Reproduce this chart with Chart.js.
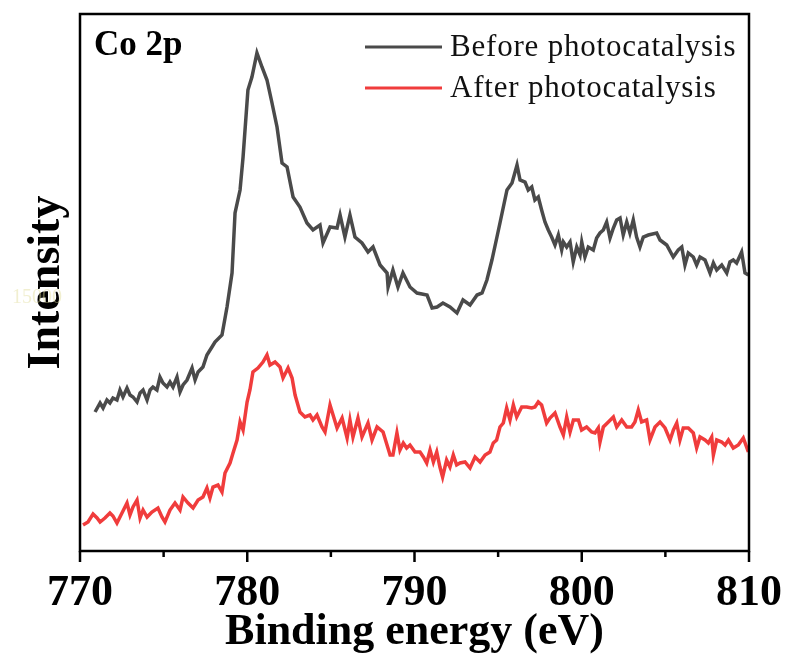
<!DOCTYPE html>
<html>
<head>
<meta charset="utf-8">
<script src="https://cdn.jsdelivr.net/npm/chart.js@4.4.1/dist/chart.umd.min.js"></script>
<style>
  html, body { margin: 0; padding: 0; background: #fff; overflow: hidden; }
  #wrap { width: 788px; height: 655px; }
</style>
</head>
<body>
<div id="wrap"><canvas id="xps"></canvas></div>
<script>
// Co 2p XPS spectra (intensity in arbitrary units)
const energyBefore = [
  770.90, 771.20, 771.38, 771.61, 771.79, 771.97, 772.21, 772.39, 772.57, 772.81,
  772.99, 773.17, 773.41, 773.59, 773.77, 774.01, 774.19, 774.36, 774.60, 774.78,
  774.96, 775.20, 775.38, 775.56, 775.80, 775.98, 776.16, 776.40, 776.70, 776.88,
  777.06, 777.35, 777.59, 777.89, 778.07, 778.49, 778.79, 779.09, 779.27, 779.57,
  779.75, 780.04, 780.28, 780.58, 780.88, 781.18, 781.48, 781.78, 782.08, 782.38,
  782.74, 783.15, 783.57, 783.93, 784.35, 784.53, 784.95, 785.37, 785.55, 785.84,
  786.14, 786.44, 786.86, 787.22, 787.52, 787.94, 788.36, 788.42, 788.71, 789.01,
  789.31, 789.73, 790.15, 790.75, 791.05, 791.35, 791.70, 792.12, 792.54, 792.90,
  793.32, 793.74, 794.04, 794.33, 794.63, 794.93, 795.11, 795.53, 795.83, 796.13,
  796.31, 796.61, 796.80, 797.01, 797.20, 797.40, 797.60, 797.80, 798.00, 798.20,
  798.40, 798.60, 798.80, 798.90, 799.10, 799.30, 799.49, 799.70, 799.90, 800.00,
  800.19, 800.39, 800.69, 800.89, 801.09, 801.29, 801.49, 801.69, 801.89, 802.09,
  802.29, 802.48, 802.69, 802.88, 803.08, 803.28, 803.48, 803.68, 803.98, 804.48,
  804.68, 805.08, 805.47, 805.77, 805.98, 806.17, 806.37, 806.67, 806.87, 807.07,
  807.37, 807.67, 807.87, 808.07, 808.37, 808.67, 808.86, 809.06, 809.26, 809.56,
  809.76, 809.96
];
const intensityBefore = [
  136, 145, 140, 148, 145, 150, 148, 158, 151, 160,
  153, 151, 146, 155, 158, 148, 158, 161, 158, 171,
  165, 161, 166, 161, 171, 156, 163, 168, 180, 168,
  176, 181, 193, 201, 206, 213, 241, 275, 335, 358,
  391, 458, 471, 495, 481, 468, 445, 421, 385, 381,
  351, 341, 325, 318, 323, 305, 321, 320, 333, 311,
  333, 311, 305, 296, 301, 283, 275, 261, 278, 261,
  275, 261, 255, 253, 240, 241, 245, 241, 235, 248,
  243, 253, 255, 268, 288, 311, 325, 358, 365, 383,
  368, 366, 358, 361, 348, 351, 338, 326, 318, 311,
  303, 313, 298, 306, 301, 306, 286, 301, 293, 306,
  291, 301, 298, 310, 315, 318, 326, 310, 320, 328,
  330, 313, 326, 315, 328, 311, 301, 311, 313, 315,
  308, 303, 291, 298, 301, 283, 295, 291, 283, 291,
  288, 275, 285, 278, 283, 275, 286, 288, 285, 296,
  275, 273
];

const energyAfter = [
  770.18, 770.48, 770.78, 771.02, 771.20, 771.49, 771.79, 771.97, 772.21, 772.51,
  772.81, 772.99, 773.17, 773.41, 773.59, 773.77, 774.01, 774.30, 774.66, 774.90,
  775.08, 775.38, 775.68, 775.98, 776.16, 776.46, 776.76, 777.06, 777.35, 777.59,
  777.77, 777.95, 778.25, 778.49, 778.67, 778.97, 779.15, 779.39, 779.57, 779.75,
  779.99, 780.16, 780.34, 780.64, 780.94, 781.18, 781.36, 781.66, 781.96, 782.14,
  782.44, 782.68, 782.86, 783.15, 783.45, 783.75, 783.93, 784.17, 784.47, 784.65,
  784.95, 785.37, 785.67, 785.97, 786.14, 786.32, 786.62, 786.86, 787.22, 787.46,
  787.76, 788.12, 788.54, 788.71, 788.95, 789.13, 789.33, 789.53, 789.73, 790.03,
  790.33, 790.53, 790.73, 790.93, 791.13, 791.33, 791.52, 791.68, 791.92, 792.12,
  792.32, 792.52, 792.72, 793.02, 793.32, 793.62, 793.92, 794.22, 794.51, 794.71,
  794.91, 795.11, 795.31, 795.51, 795.71, 795.91, 796.11, 796.41, 796.71, 797.01,
  797.20, 797.40, 797.60, 797.90, 798.10, 798.40, 798.70, 798.90, 799.10, 799.30,
  799.50, 799.80, 799.99, 800.29, 800.59, 800.79, 800.99, 801.09, 801.29, 801.59,
  801.89, 802.09, 802.39, 802.69, 802.98, 803.18, 803.38, 803.58, 803.88, 804.08,
  804.38, 804.68, 804.98, 805.28, 805.48, 805.68, 805.87, 806.07, 806.37, 806.67,
  806.87, 807.07, 807.37, 807.57, 807.77, 807.87, 808.07, 808.37, 808.57, 808.77,
  809.06, 809.36, 809.66, 809.96
];
const intensityAfter = [
   23,  26,  34,  30,  26,  30,  35,  32,  25,  35,
   45,  33,  41,  48,  30,  38,  31,  36,  40,  31,
   26,  38,  45,  38,  51,  45,  40,  48,  51,  60,
   50,  61,  63,  56,  75,  85,  95, 108, 126, 118,
  146, 158, 176, 180, 186, 193, 183, 186, 181, 170,
  180, 170, 153, 136, 131, 133, 128, 133, 121, 116,
  143, 120, 130, 110, 128, 111, 130, 111, 125, 108,
  121, 116,  93,  93, 115,  98, 105, 100, 103,  96,
   96,  91,  85,  98,  86,  96,  81,  71,  88,  81,
   93,  83,  85,  86,  80,  91,  86,  93,  96, 105,
  108, 121, 125, 140, 128, 143, 131, 141, 141, 140,
  141, 146, 143, 125, 130, 135, 121, 113, 131, 116,
  128, 128, 118, 121, 116, 115, 120, 106, 121, 126,
  131, 121, 128, 121, 121, 126, 138, 126, 128, 108,
  121, 126, 120, 108, 118, 125, 108, 120, 120, 115,
  100, 111, 108, 105, 111,  93, 108, 106, 103, 108,
  100, 103, 110,  96
];

const seriesLabels = ['Before photocatalysis', 'After photocatalysis'];
const seriesColors = ['#4a4a4a', '#f03c3c'];
const xTickMin = 770, xTickMax = 810, xTickStep = 5;

const SERIF = "'Liberation Serif', 'Times New Roman', serif";

const toPoints = (xs, ys) => xs.map((x, i) => ({ x, y: ys[i] }));

// box frame, outward ticks (major/minor), panel label, legend and the faint stamp
const decorations = {
  id: 'decorations',
  afterDatasetsDraw(chart) {
    const { ctx, chartArea: a, scales } = chart;
    ctx.save();
    ctx.strokeStyle = '#000';
    ctx.lineWidth = 2.5;
    ctx.strokeRect(a.left, a.top, a.right - a.left, a.bottom - a.top);

    scales.x.ticks.forEach(t => {
      const px = scales.x.getPixelForValue(t.value);
      const len = t.value % 10 === 0 ? 11 : 6;
      ctx.beginPath();
      ctx.moveTo(px, a.bottom);
      ctx.lineTo(px, a.bottom + len);
      ctx.stroke();
    });

    ctx.fillStyle = '#000';
    ctx.font = `bold 35px ${SERIF}`;
    ctx.textBaseline = 'alphabetic';
    ctx.fillText('Co 2p', a.left + 14, a.top + 41);

    ctx.font = `31px ${SERIF}`;
    ctx.letterSpacing = '0.8px';
    ctx.textBaseline = 'middle';
    chart.data.datasets.forEach((ds, i) => {
      const y = a.top + 33 + i * 41;
      ctx.strokeStyle = ds.borderColor;
      ctx.lineWidth = 3;
      ctx.beginPath();
      ctx.moveTo(365, y);
      ctx.lineTo(442, y);
      ctx.stroke();
      ctx.fillStyle = '#111';
      ctx.fillText(ds.label, 450, y + 1);
    });
    ctx.letterSpacing = '0px';

    ctx.font = `20px ${SERIF}`;
    ctx.fillStyle = 'rgba(225, 220, 150, 0.45)';
    ctx.fillText('15000', 12, 298);
    ctx.restore();
  }
};

new Chart(document.getElementById('xps').getContext('2d'), {
  type: 'line',
  data: {
    datasets: [
      {
        label: seriesLabels[0],
        data: toPoints(energyBefore, intensityBefore),
        borderColor: seriesColors[0],
        borderWidth: 3.5,
        pointRadius: 0,
        tension: 0,
      },
      {
        label: seriesLabels[1],
        data: toPoints(energyAfter, intensityAfter),
        borderColor: seriesColors[1],
        borderWidth: 3.5,
        pointRadius: 0,
        tension: 0,
      },
    ],
  },
  options: {
    responsive: true,
    maintainAspectRatio: false,
    animation: false,
    layout: { padding: { left: 0, right: 39, top: 14, bottom: 0 } },
    plugins: {
      legend: { display: false },
      tooltip: { enabled: false },
    },
    scales: {
      x: {
        type: 'linear',
        min: xTickMin,
        max: xTickMax,
        grid: { display: false },
        border: { display: false },
        afterFit: s => { s.height = 104; s.paddingLeft = 0; s.paddingRight = 0; },
        ticks: {
          stepSize: xTickStep,
          autoSkip: false,
          maxRotation: 0,
          padding: 8,
          color: '#000',
          font: { family: SERIF, weight: 'bold', size: 44 },
          callback: v => (v % 10 === 0 ? String(v) : ''),
        },
        title: {
          display: true,
          text: 'Binding energy (eV)',
          color: '#000',
          font: { family: SERIF, weight: 'bold', size: 44 },
          padding: { top: 0, bottom: -4 },
        },
      },
      y: {
        min: -3,
        max: 534,
        grid: { display: false },
        border: { display: false },
        afterFit: s => { s.width = 80; },
        ticks: { display: false },
        title: {
          display: true,
          text: 'Intensity',
          color: '#000',
          font: { family: SERIF, weight: 'bold', size: 46 },
          padding: { top: 20, bottom: 0 },
        },
      },
    },
  },
  plugins: [decorations],
});
</script>
</body>
</html>
